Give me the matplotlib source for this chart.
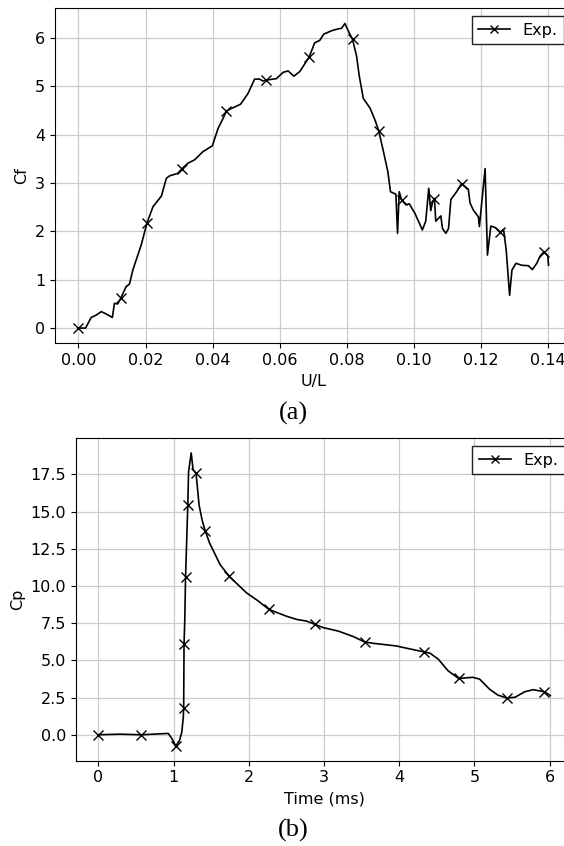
import matplotlib
matplotlib.use("Agg")
import matplotlib.pyplot as plt

# (a) Cf против U/L
ul = [0.0000, 0.0021, 0.0038, 0.0053, 0.0068, 0.0083, 0.0101, 0.0107, 0.0117, 0.0127,
      0.0142, 0.0152, 0.0162, 0.0172, 0.0187, 0.0204, 0.0222, 0.0230, 0.0247, 0.0262,
      0.0272, 0.0296, 0.0309, 0.0326, 0.0346, 0.0371, 0.0399, 0.0416, 0.0431, 0.0441,
      0.0461, 0.0483, 0.0505, 0.0525, 0.0540, 0.0550, 0.0560, 0.0590, 0.0610, 0.0625,
      0.0642, 0.0660, 0.0687, 0.0704, 0.0719, 0.0731, 0.0754, 0.0774, 0.0784, 0.0794,
      0.0804, 0.0817, 0.0829, 0.0837, 0.0849, 0.0869, 0.0884, 0.0895, 0.0909, 0.0922,
      0.0930, 0.0946, 0.0951, 0.0956, 0.0963, 0.0976, 0.0986, 0.1003, 0.1025, 0.1035,
      0.1044, 0.1050, 0.1056, 0.1061, 0.1065, 0.1073, 0.1080, 0.1085, 0.1095, 0.1103,
      0.1110, 0.1127, 0.1142, 0.1162, 0.1167, 0.1177, 0.1192, 0.1195, 0.1212, 0.1219,
      0.1229, 0.1242, 0.1257, 0.1267, 0.1275, 0.1285, 0.1292, 0.1304, 0.1321, 0.1341,
      0.1353, 0.1366, 0.1376, 0.1388, 0.1399, 0.1401]
cf = [0.00, 0.00, 0.22, 0.27, 0.34, 0.29, 0.22, 0.51, 0.50, 0.63,
      0.86, 0.91, 1.20, 1.41, 1.72, 2.17, 2.51, 2.58, 2.73, 3.10,
      3.15, 3.20, 3.30, 3.41, 3.48, 3.65, 3.77, 4.13, 4.34, 4.49,
      4.56, 4.63, 4.85, 5.15, 5.15, 5.11, 5.13, 5.16, 5.29, 5.32,
      5.21, 5.31, 5.60, 5.90, 5.95, 6.08, 6.15, 6.19, 6.20, 6.30,
      6.15, 5.97, 5.62, 5.21, 4.75, 4.55, 4.30, 4.08, 3.65, 3.24,
      2.82, 2.77, 1.96, 2.82, 2.65, 2.55, 2.57, 2.37, 2.03, 2.21,
      2.89, 2.43, 2.62, 2.68, 2.21, 2.27, 2.32, 2.06, 1.96, 2.06,
      2.66, 2.82, 2.99, 2.87, 2.59, 2.44, 2.30, 2.10, 3.30, 1.51,
      2.11, 2.08, 1.98, 2.04, 1.61, 0.68, 1.20, 1.34, 1.30, 1.29,
      1.21, 1.34, 1.49, 1.58, 1.49, 1.30]
marks_a = [0, 9, 15, 22, 29, 36, 42, 51, 57, 64, 73, 82, 92, 103]

# (b) Cp против времени
time_ms = [0.00, 0.29, 0.57, 0.93, 0.98, 1.03, 1.08, 1.11, 1.13, 1.135,
           1.14, 1.15, 1.16, 1.19, 1.20, 1.235, 1.26, 1.30, 1.34, 1.38,
           1.42, 1.48, 1.62, 1.74, 1.97, 2.11, 2.27, 2.50, 2.64, 2.77,
           2.88, 2.99, 3.19, 3.39, 3.54, 3.65, 3.96, 4.16, 4.33, 4.41,
           4.52, 4.65, 4.79, 4.98, 5.07, 5.20, 5.31, 5.43, 5.54, 5.67,
           5.78, 5.93, 6.01]
cp = [0.00, 0.04, 0.00, 0.09, -0.27, -0.76, -0.38, 0.18, 1.18, 1.78,
      6.08, 7.75, 10.60, 15.44, 17.67, 18.94, 17.83, 17.56, 15.44, 14.44,
      13.72, 12.88, 11.43, 10.65, 9.54, 9.05, 8.42, 7.97, 7.75, 7.64,
      7.42, 7.20, 6.97, 6.60, 6.24, 6.15, 5.97, 5.75, 5.57, 5.48,
      5.08, 4.30, 3.79, 3.86, 3.74, 3.07, 2.67, 2.47, 2.52, 2.89,
      3.03, 2.89, 2.63]
marks_b = [0, 2, 5, 9, 10, 12, 13, 17, 20, 23, 26, 30, 34, 38, 42, 47, 51]

plt.rcParams["font.size"] = 11.5

fig = plt.figure(figsize=(5.64, 8.46), dpi=100)

ax1 = fig.add_axes([0.0975, 0.5942, 0.9167, 0.396])
ax1.plot(ul, cf, color="black", linewidth=1.2, marker="x", markersize=7,
         markeredgewidth=1.0, markevery=marks_a, label="Exp.")
ax1.set_xlabel("U/L")
ax1.set_ylabel("Cf")
ax1.grid(True, color="#cccccc", linewidth=0.9)
ax1.legend(loc="upper right", fancybox=False, edgecolor="#222222", framealpha=1,
           markerscale=0.8)

ax2 = fig.add_axes([0.1342, 0.1008, 0.8817, 0.3811])
ax2.plot(time_ms, cp, color="black", linewidth=1.2, marker="x", markersize=7,
         markeredgewidth=1.0, markevery=marks_b, label="Exp.")
ax2.set_xlabel("Time (ms)")
ax2.set_ylabel("Cp")
ax2.grid(True, color="#cccccc", linewidth=0.9)
ax2.legend(loc="upper right", fancybox=False, edgecolor="#222222", framealpha=1,
           markerscale=0.8)

# подписи панелей
fig.text(0.52, 1 - 413 / 846, "(a)", family="Liberation Serif", fontsize=19,
         ha="center", va="center")
fig.text(0.52, 1 - 830 / 846, "(b)", family="Liberation Serif", fontsize=19,
         ha="center", va="center")

fig.savefig("out.png", dpi=100)
